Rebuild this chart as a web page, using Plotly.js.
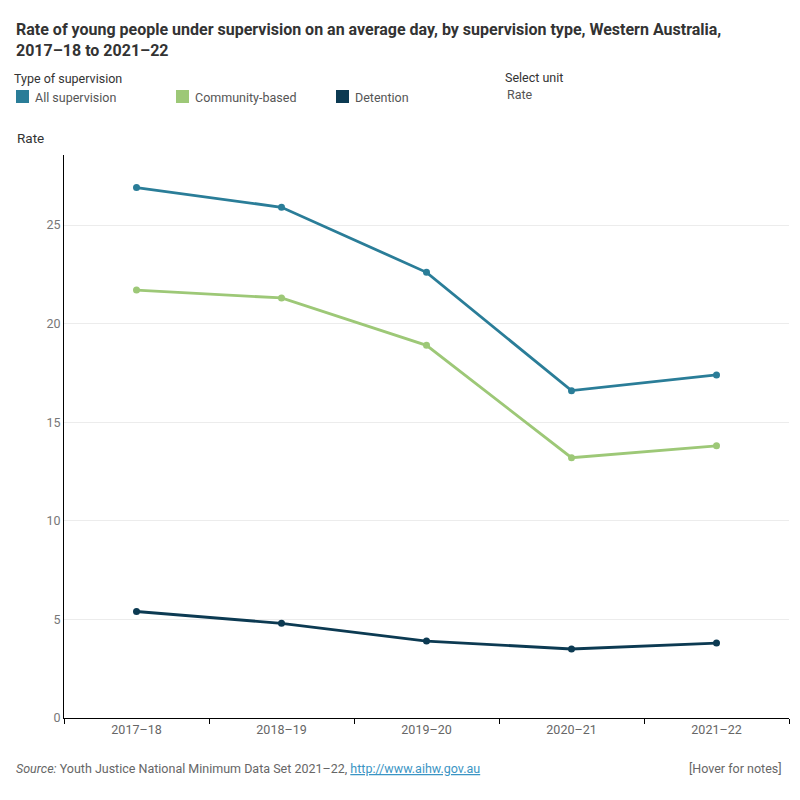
<!DOCTYPE html>
<html>
<head>
<meta charset="utf-8">
<script src="https://cdn.plot.ly/plotly-3.0.1.min.js"></script>
<style>
  html, body { margin: 0; padding: 0; background: #fff; }
  #chart { width: 800px; height: 800px; }
</style>
</head>
<body>
<div id="chart"></div>
<script>
// ---- data ----
const years = ["2017–18", "2018–19", "2019–20", "2020–21", "2021–22"];
const allSupervision = [26.9, 25.9, 22.6, 16.6, 17.4];
const communityBased = [21.7, 21.3, 18.9, 13.2, 13.8];
const detention = [5.4, 4.8, 3.9, 3.5, 3.8];
const seriesNames = ["All supervision", "Community-based", "Detention"];
const seriesColors = ["#2a7d98", "#9dc877", "#0c3a52"];
const yTicks = [0, 5, 10, 15, 20, 25];

const FONT = "'Liberation Sans Narrow', 'Roboto', 'Noto Sans', sans-serif";

const seriesValues = [allSupervision, communityBased, detention];
const traces = seriesValues.map((vals, i) => ({
  type: "scatter",
  mode: "lines+markers",
  x: years,
  y: vals,
  name: seriesNames[i],
  line: { color: seriesColors[i], width: 2.8 },
  marker: { color: seriesColors[i], size: 7 },
  showlegend: false,
  hovertemplate: "%{x}<br>%{y}<extra>" + seriesNames[i] + "</extra>"
}));

function pxX(px) { return (px - 64) / 725; }
function pxY(py) { return (718 - py) / 563; }

// legend built as shapes + annotations
const legendX = [16, 176, 336];
const shapes = [];
const annotations = [];
legendX.forEach((px, i) => {
  shapes.push({
    type: "rect", xref: "paper", yref: "paper",
    x0: pxX(px), x1: pxX(px + 13),
    y0: pxY(103), y1: pxY(90),
    fillcolor: seriesColors[i], line: { width: 0 }
  });
  annotations.push({
    xref: "paper", yref: "paper",
    x: pxX(px + 17), y: pxY(97),
    xanchor: "left", yanchor: "middle", showarrow: false,
    text: seriesNames[i],
    font: { family: FONT, size: 12.5, color: "#555" }
  });
});

annotations.push(
  { xref: "paper", yref: "paper", x: pxX(12), y: pxY(78), xanchor: "left", yanchor: "middle",
    showarrow: false, text: "Type of supervision", font: { family: FONT, size: 12.5, color: "#333" } },
  { xref: "paper", yref: "paper", x: pxX(503), y: pxY(77), xanchor: "left", yanchor: "middle",
    showarrow: false, text: "Select unit", font: { family: FONT, size: 12.5, color: "#333" } },
  { xref: "paper", yref: "paper", x: pxX(505), y: pxY(95), xanchor: "left", yanchor: "middle",
    showarrow: false, text: "Rate", font: { family: FONT, size: 12.5, color: "#555" } },
  { xref: "paper", yref: "paper", x: pxX(15), y: pxY(138), xanchor: "left", yanchor: "middle",
    showarrow: false, text: "Rate", font: { family: FONT, size: 13.5, color: "#333" } },
  { xref: "paper", yref: "paper", x: pxX(14), y: pxY(768), xanchor: "left", yanchor: "middle",
    showarrow: false,
    text: "<i>Source:</i> Youth Justice National Minimum Data Set 2021–22, <span style='color:#3b95c4'><u>http://www.aihw.gov.au</u></span>",
    font: { family: FONT, size: 12.5, color: "#666" } },
  { xref: "paper", yref: "paper", x: pxX(784), y: pxY(768), xanchor: "right", yanchor: "middle",
    showarrow: false, text: "[Hover for notes]", font: { family: FONT, size: 12.5, color: "#666" } }
);

const layout = {
  width: 800, height: 800,
  paper_bgcolor: "#fff", plot_bgcolor: "#fff",
  margin: { l: 64, r: 11, t: 155, b: 82 },
  font: { family: FONT, color: "#666" },
  title: {
    text: "<b>Rate of young people under supervision on an average day, by supervision type, Western Australia,<br>2017–18 to 2021–22</b>",
    x: 16 / 800, xanchor: "left", xref: "container",
    y: 1 - 35 / 800, yanchor: "middle", yref: "container",
    font: { family: FONT, size: 16, color: "#333" }
  },
  xaxis: {
    type: "category",
    range: [-0.5, 4.5],
    showgrid: false,
    showline: true, linecolor: "#000", linewidth: 1,
    ticks: "outside", tickson: "boundaries", ticklen: 5, tickcolor: "#000",
    tickfont: { family: FONT, size: 12.5, color: "#666" },
    zeroline: false, fixedrange: true
  },
  yaxis: {
    range: [0, 28.55],
    tickvals: yTicks,
    ticktext: yTicks.map(String),
    showgrid: true, gridcolor: "#ececec", gridwidth: 1,
    showline: true, linecolor: "#000", linewidth: 1,
    ticks: "", ticklen: 0,
    tickfont: { family: FONT, size: 12.5, color: "#777" },
    zeroline: false, fixedrange: true
  },
  shapes: shapes,
  annotations: annotations,
  hovermode: "closest"
};

Plotly.newPlot("chart", traces, layout, { displayModeBar: false, responsive: false });
</script>
</body>
</html>
